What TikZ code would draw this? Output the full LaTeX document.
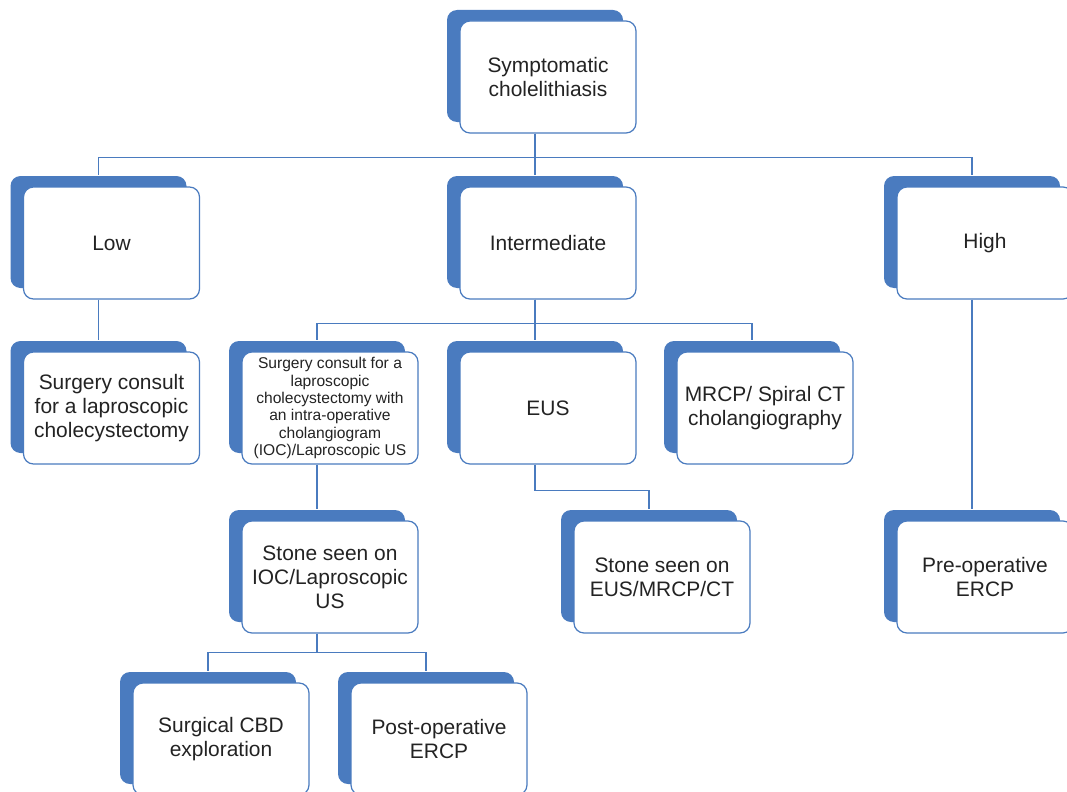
\documentclass[tikz,border=0pt]{standalone}
\usepackage{fontspec}
\setmainfont{Liberation Sans}
\usetikzlibrary{shadows}
\definecolor{boxblue}{RGB}{74,123,191}
\definecolor{boxtext}{RGB}{35,35,35}
% ends of a connector: centre of the blue backing
\newcommand\bottomof[1]{([xshift=-9.75pt]#1.south)}
\newcommand\topof[1]{([xshift=-9.75pt,yshift=8.25pt]#1.north)}

\begin{document}
\begin{tikzpicture}[x=0.75pt,y=-0.75pt,
    box/.style={draw=boxblue,line width=0.9pt,fill=white,rounded corners=7.5pt,
      minimum width=132pt,minimum height=84pt,inner sep=2pt,align=center,
      text=boxtext,font=\fontsize{15.7}{18}\selectfont,
      general shadow={fill=boxblue,draw=none,shadow xshift=-9.75pt,shadow yshift=8.25pt}},
    smallbox/.style={box,font=\fontsize{11.7}{13}\selectfont},
    link/.style={draw=boxblue,line width=0.8pt}]
  \useasboundingbox (0,0) rectangle (1067,792);
  \clip (0,0) rectangle (1067,792);

  \node[box] (sym) at (548,77) {Symptomatic\\cholelithiasis};

  \node[box] (low) at (111.5,243) {Low};
  \node[box] (inter) at (548,243) {Intermediate};
  \node[box] (high) at (985,243) {High};

  \node[box] (lap) at (111.5,408) {Surgery consult\\for a laproscopic\\cholecystectomy};
  \node[smallbox] (ioc) at (330,408) {Surgery consult for a\\laproscopic\\cholecystectomy with\\an intra-operative\\cholangiogram\\(IOC)/Laproscopic US};
  \node[box] (eus) at (548,408) {EUS};
  \node[box] (mrcp) at (765,408) {MRCP/ Spiral CT\\cholangiography};

  \node[box] (stoneioc) at (330,577) {Stone seen on\\IOC/Laproscopic\\US};
  \node[box] (stoneeus) at (662,577) {Stone seen on\\EUS/MRCP/CT};
  \node[box] (preop) at (985,577) {Pre-operative\\ERCP};

  \node[box] (cbd) at (221,739) {Surgical CBD\\exploration};
  \node[box] (post) at (439,739) {Post-operative\\ERCP};

  \draw[link] \bottomof{sym} -- ++(0,24) -| \topof{low};
  \draw[link] \bottomof{sym} -- \topof{inter};
  \draw[link] \bottomof{sym} -- ++(0,24) -| \topof{high};

  \draw[link] \bottomof{low} -- \topof{lap};
  \draw[link] \bottomof{inter} -- ++(0,24) -| \topof{ioc};
  \draw[link] \bottomof{inter} -- \topof{eus};
  \draw[link] \bottomof{inter} -- ++(0,24) -| \topof{mrcp};
  \draw[link] \bottomof{high} -- \topof{preop};

  \draw[link] \bottomof{ioc} -- \topof{stoneioc};
  \draw[link] \bottomof{eus} -- ++(0,26) -| \topof{stoneeus};

  \draw[link] \bottomof{stoneioc} -- ++(0,19) -| \topof{cbd};
  \draw[link] \bottomof{stoneioc} -- ++(0,19) -| \topof{post};
\end{tikzpicture}
\end{document}
